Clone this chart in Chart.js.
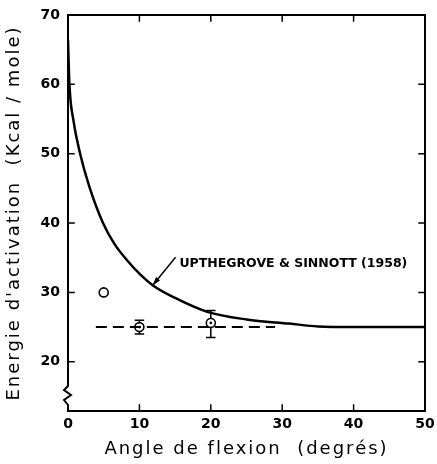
<!DOCTYPE html>
<html>
<head>
<meta charset="utf-8">
<script src="https://cdn.jsdelivr.net/npm/chart.js@4.4.0/dist/chart.umd.min.js"></script>
<style>
  html, body { margin: 0; padding: 0; background: #fff; }
  #wrap { width: 437px; height: 464px; }
</style>
</head>
<body>
<div id="wrap"><canvas id="chart"></canvas></div>
<script>
// Courbe Upthegrove & Sinnott (1958)
const curveX = [0, 0.2, 0.76, 1.7, 3, 4.9, 6.5, 8.3, 10, 11.9, 15, 19.5, 25, 31, 35, 40, 50];
const curveY = [66.4, 60, 54.8, 50, 45.2, 40, 37, 34.6, 32.7, 31, 29.2, 27.2, 26.1, 25.5, 25.1, 25, 25];

// Points mesurés
const pointX = [5, 10, 20];
const pointY = [30, 25, 25.6];
const errLow = [null, 24, 23.5];
const errHigh = [null, 26, 27.4];
const pointDot = [false, true, true];

// Droite en tirets
const dashX = [3.9, 29];
const dashY = [25, 25];

// Ticks
const xTicks = [0, 10, 20, 30, 40, 50];
const yTicks = [20, 30, 40, 50, 60, 70];

// Annotation
const noteText = 'UPTHEGROVE & SINNOTT (1958)';
const notePos = [15.6, 34.2];
const arrowFrom = [15.0, 35.0];
const arrowTo = [11.85, 31.0];

const FONT = '"DejaVu Sans", sans-serif';

// titres d'axes espacés (seulement les titres, pas les ticks)
const spacingPlugin = {
  id: 'spacing',
  afterLayout(chart) {
    Object.values(chart.scales).forEach(s => {
      if (s._spaced) return;
      const orig = s.drawTitle.bind(s);
      s.drawTitle = function () {
        const ctx = this.ctx;
        const prev = ctx.letterSpacing;
        ctx.letterSpacing = '2px';
        orig();
        ctx.letterSpacing = prev;
      };
      s._spaced = true;
    });
  }
};

// Cadre, ticks intérieurs, coupure de l'axe, barres d'erreur, annotation
const decorPlugin = {
  id: 'decor',
  afterDatasetsDraw(chart) {
    const ctx = chart.ctx;
    const xs = chart.scales.x, ys = chart.scales.y;
    const a = chart.chartArea;
    ctx.save();
    ctx.strokeStyle = '#000';
    ctx.lineWidth = 2;
    ctx.lineCap = 'square';

    // cadre
    ctx.beginPath();
    ctx.moveTo(a.left, a.top);
    ctx.lineTo(a.right, a.top);
    ctx.lineTo(a.right, a.bottom);
    ctx.lineTo(a.left, a.bottom);
    ctx.lineTo(a.left, a.bottom - 6);
    // zigzag (coupure)
    ctx.lineTo(a.left - 4, a.bottom - 11);
    ctx.lineTo(a.left + 3, a.bottom - 16);
    ctx.lineTo(a.left - 4, a.bottom - 21);
    ctx.lineTo(a.left, a.bottom - 25);
    ctx.lineTo(a.left, a.top);
    ctx.stroke();

    // ticks intérieurs
    ctx.lineWidth = 1.5;
    ctx.beginPath();
    xTicks.forEach(v => {
      if (v === xs.min || v === xs.max) return;
      const px = xs.getPixelForValue(v);
      ctx.moveTo(px, a.bottom); ctx.lineTo(px, a.bottom - 6);
      ctx.moveTo(px, a.top); ctx.lineTo(px, a.top + 6);
    });
    yTicks.forEach(v => {
      if (v === ys.max) return;
      const py = ys.getPixelForValue(v);
      ctx.moveTo(a.left, py); ctx.lineTo(a.left + 6, py);
      ctx.moveTo(a.right, py); ctx.lineTo(a.right - 6, py);
    });
    ctx.stroke();

    // barres d'erreur
    ctx.lineWidth = 1.5;
    pointX.forEach((x, i) => {
      if (errLow[i] === null) return;
      const px = xs.getPixelForValue(x);
      const pc = ys.getPixelForValue(pointY[i]);
      const pl = ys.getPixelForValue(errLow[i]);
      const ph = ys.getPixelForValue(errHigh[i]);
      ctx.beginPath();
      ctx.moveTo(px, ph); ctx.lineTo(px, pc - 5);
      ctx.moveTo(px, pc + 5); ctx.lineTo(px, pl);
      ctx.moveTo(px - 4, ph); ctx.lineTo(px + 4, ph);
      ctx.moveTo(px - 4, pl); ctx.lineTo(px + 4, pl);
      ctx.stroke();
    });
    // point central
    ctx.fillStyle = '#000';
    pointX.forEach((x, i) => {
      if (!pointDot[i]) return;
      ctx.beginPath();
      ctx.arc(xs.getPixelForValue(x), ys.getPixelForValue(pointY[i]), 1.3, 0, Math.PI * 2);
      ctx.fill();
    });

    // annotation
    ctx.font = 'bold 12.5px ' + FONT;
    ctx.textBaseline = 'middle';
    ctx.textAlign = 'left';
    ctx.fillText(noteText, xs.getPixelForValue(notePos[0]), ys.getPixelForValue(notePos[1]));
    const fx = xs.getPixelForValue(arrowFrom[0]), fy = ys.getPixelForValue(arrowFrom[1]);
    const tx = xs.getPixelForValue(arrowTo[0]), ty = ys.getPixelForValue(arrowTo[1]);
    ctx.lineWidth = 1.5;
    ctx.beginPath();
    ctx.moveTo(fx, fy); ctx.lineTo(tx, ty);
    ctx.stroke();
    const ang = Math.atan2(ty - fy, tx - fx);
    ctx.beginPath();
    ctx.moveTo(tx, ty);
    ctx.lineTo(tx - 9 * Math.cos(ang - 0.3), ty - 9 * Math.sin(ang - 0.3));
    ctx.lineTo(tx - 9 * Math.cos(ang + 0.3), ty - 9 * Math.sin(ang + 0.3));
    ctx.closePath();
    ctx.fill();
    ctx.restore();
  }
};

new Chart(document.getElementById('chart'), {
  type: 'scatter',
  data: {
    datasets: [
      {
        type: 'line',
        data: curveX.map((x, i) => ({ x: x, y: curveY[i] })),
        borderColor: '#000',
        borderWidth: 2.5,
        pointRadius: 0,
        cubicInterpolationMode: 'monotone',
        fill: false
      },
      {
        type: 'line',
        data: dashX.map((x, i) => ({ x: x, y: dashY[i] })),
        borderColor: '#000',
        borderWidth: 2,
        borderDash: [11, 6],
        pointRadius: 0,
        fill: false
      },
      {
        data: pointX.map((x, i) => ({ x: x, y: pointY[i] })),
        pointStyle: 'circle',
        pointRadius: 4.5,
        pointBorderWidth: 1.6,
        pointBorderColor: '#000',
        pointBackgroundColor: '#fff'
      }
    ]
  },
  options: {
    responsive: true,
    maintainAspectRatio: false,
    animation: false,
    layout: { padding: { top: 15, right: 12, left: 0, bottom: 0 } },
    plugins: { legend: { display: false }, tooltip: { enabled: false } },
    scales: {
      x: {
        type: 'linear',
        min: 0, max: 50,
        afterBuildTicks: s => { s.ticks = xTicks.map(v => ({ value: v })); },
        afterFit: s => { s.height = 53; s.paddingLeft = 0; s.paddingRight = 0; },
        grid: { display: false, drawTicks: false },
        border: { display: false },
        ticks: { padding: 5, color: '#000', font: { family: FONT, size: 14, weight: 'bold' } },
        title: {
          display: true,
          text: 'Angle de flexion  (degrés)',
          color: '#000',
          font: { family: FONT, size: 18 },
          padding: { top: 6 }
        }
      },
      y: {
        type: 'linear',
        min: 12.9, max: 70,
        afterBuildTicks: s => { s.ticks = yTicks.map(v => ({ value: v })); },
        afterFit: s => { s.width = 68; s.paddingTop = 0; s.paddingBottom = 0; },
        grid: { display: false, drawTicks: false },
        border: { display: false },
        ticks: { padding: 8, color: '#000', font: { family: FONT, size: 14, weight: 'bold' } },
        title: {
          display: true,
          text: "Energie d'activation  (Kcal / mole)",
          color: '#000',
          font: { family: FONT, size: 18 },
          padding: { bottom: 4 }
        }
      }
    }
  },
  plugins: [spacingPlugin, decorPlugin]
});
</script>
</body>
</html>
